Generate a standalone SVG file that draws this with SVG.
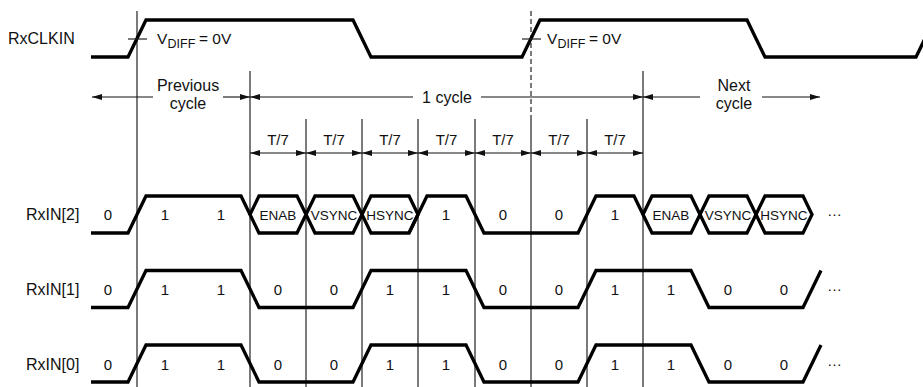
<svg xmlns="http://www.w3.org/2000/svg" width="923" height="387" viewBox="0 0 923 387">
<defs>
<style>
text{font-family:"Liberation Sans",Arial,sans-serif;fill:#111}
.lbl{font-size:16px}
.t{font-size:15px;text-anchor:middle}
.hx{font-size:13.5px;text-anchor:middle}
.wave{fill:none;stroke:#000;stroke-width:3.3;stroke-linejoin:miter}
.grid{stroke:#222;stroke-width:1.2;fill:none}
.dash{stroke:#222;stroke-width:1.2;stroke-dasharray:5 3;fill:none}
.arr{stroke:#111;stroke-width:1.1;fill:none}
</style>
<marker id="ah" viewBox="0 0 10 6" refX="10" refY="3" markerWidth="10" markerHeight="6" markerUnits="userSpaceOnUse" orient="auto-start-reverse">
<path d="M0,0 L10,3 L0,6 Z" fill="#111"/>
</marker>
</defs>
<rect width="923" height="387" fill="#fff"/>

<g id="grid-lines">
<line class="grid" x1="137" y1="11" x2="137" y2="387"/>
<line class="grid" x1="250" y1="71" x2="250" y2="387"/>
<line class="grid" x1="643" y1="71" x2="643" y2="387"/>
<line class="grid" x1="306" y1="119" x2="306" y2="387"/>
<line class="grid" x1="362" y1="119" x2="362" y2="387"/>
<line class="grid" x1="418" y1="119" x2="418" y2="387"/>
<line class="grid" x1="475" y1="119" x2="475" y2="387"/>
<line class="grid" x1="587" y1="119" x2="587" y2="387"/>
<line class="dash" x1="531" y1="11" x2="531" y2="119"/>
<line class="grid" x1="531" y1="119" x2="531" y2="387"/>
</g>

<g id="clock">
<text class="lbl" x="8" y="44">RxCLKIN</text>
<path class="wave" d="M91,57 L128,57 L146,20 L353,20 L371,57 L522,57 L540,20 L747,20 L765,57 L916,57 L934,20"/>
<line class="grid" x1="128" y1="39" x2="147" y2="39"/>
<line class="grid" x1="522" y1="39" x2="541" y2="39"/>
<text x="157" y="44" style="font-size:15.5px">V</text><text x="167.5" y="48" style="font-size:12.5px">DIFF</text><text x="199" y="44" style="font-size:15.5px">= 0V</text>
<text x="547" y="44" style="font-size:15.5px">V</text><text x="557.5" y="48" style="font-size:12.5px">DIFF</text><text x="589" y="44" style="font-size:15.5px">= 0V</text>
</g>

<g id="connectors">
<line class="arr" x1="153" y1="97" x2="92" y2="97" marker-end="url(#ah)"/>
<line class="arr" x1="223" y1="97" x2="250" y2="97" marker-end="url(#ah)"/>
<line class="arr" x1="413" y1="97" x2="250" y2="97" marker-end="url(#ah)"/>
<line class="arr" x1="481" y1="97" x2="643" y2="97" marker-end="url(#ah)"/>
<line class="arr" x1="700" y1="97" x2="643" y2="97" marker-end="url(#ah)"/>
<line class="arr" x1="762" y1="97" x2="820" y2="97" marker-end="url(#ah)"/>
<line class="arr" x1="250" y1="153" x2="306" y2="153" marker-start="url(#ah)" marker-end="url(#ah)"/>
<line class="arr" x1="306" y1="153" x2="362" y2="153" marker-start="url(#ah)" marker-end="url(#ah)"/>
<line class="arr" x1="362" y1="153" x2="418" y2="153" marker-start="url(#ah)" marker-end="url(#ah)"/>
<line class="arr" x1="418" y1="153" x2="475" y2="153" marker-start="url(#ah)" marker-end="url(#ah)"/>
<line class="arr" x1="475" y1="153" x2="531" y2="153" marker-start="url(#ah)" marker-end="url(#ah)"/>
<line class="arr" x1="531" y1="153" x2="587" y2="153" marker-start="url(#ah)" marker-end="url(#ah)"/>
<line class="arr" x1="587" y1="153" x2="643" y2="153" marker-start="url(#ah)" marker-end="url(#ah)"/>
</g>

<g id="cycle-labels">
<text class="t" x="188" y="91" style="font-size:16px">Previous</text>
<text class="t" x="188" y="109" style="font-size:16px">cycle</text>
<text class="t" x="447" y="102.5" style="font-size:16px">1 cycle</text>
<text class="t" x="734" y="91" style="font-size:16px">Next</text>
<text class="t" x="734" y="109" style="font-size:16px">cycle</text>
<text class="t" x="278" y="145">T/7</text>
<text class="t" x="334" y="145">T/7</text>
<text class="t" x="390" y="145">T/7</text>
<text class="t" x="446.5" y="145">T/7</text>
<text class="t" x="503" y="145">T/7</text>
<text class="t" x="559" y="145">T/7</text>
<text class="t" x="615" y="145">T/7</text>
</g>

<g id="rxin2">
<text class="lbl" x="26" y="220">RxIN[2]</text>
<path class="wave" d="M91,233 L128,233 L146,196 L241,196 L250,214.5"/>
<polygon class="wave" points="250,214.5 259,196 297,196 306,214.5 297,233 259,233"/>
<polygon class="wave" points="306,214.5 315,196 353,196 362,214.5 353,233 315,233"/>
<polygon class="wave" points="362,214.5 371,196 409,196 418,214.5 409,233 371,233"/>
<path class="wave" d="M409,233 L427,196 L466,196 L484,233 L578,233 L596,196 L634,196 L643,214.5"/>
<polygon class="wave" points="643,214.5 652,196 691,196 700,214.5 691,233 652,233"/>
<polygon class="wave" points="700,214.5 709,196 747,196 756,214.5 747,233 709,233"/>
<polygon class="wave" points="756,214.5 765,196 803,196 812,214.5 803,233 765,233"/>
<text class="t" x="108" y="220">0</text>
<text class="t" x="165" y="220">1</text>
<text class="t" x="221" y="220">1</text>
<text class="hx" x="278" y="219.5">ENAB</text>
<text class="hx" x="334" y="219.5">VSYNC</text>
<text class="hx" x="390" y="219.5">HSYNC</text>
<text class="t" x="446" y="220">1</text>
<text class="t" x="503" y="220">0</text>
<text class="t" x="559" y="220">0</text>
<text class="t" x="615" y="220">1</text>
<text class="hx" x="671" y="219.5">ENAB</text>
<text class="hx" x="728" y="219.5">VSYNC</text>
<text class="hx" x="784" y="219.5">HSYNC</text>
<text x="827" y="216" style="font-size:15px">…</text>
</g>

<g id="rxin1">
<text class="lbl" x="26" y="295">RxIN[1]</text>
<path class="wave" d="M91,307.5 L128,307.5 L146,270.5 L241,270.5 L259,307.5 L353,307.5 L371,270.5 L466,270.5 L484,307.5 L578,307.5 L596,270.5 L691,270.5 L709,307.5 L803,307.5 L821,270.5"/>
<text class="t" x="108" y="295">0</text>
<text class="t" x="165" y="295">1</text>
<text class="t" x="221" y="295">1</text>
<text class="t" x="278" y="295">0</text>
<text class="t" x="334" y="295">0</text>
<text class="t" x="390" y="295">1</text>
<text class="t" x="446" y="295">1</text>
<text class="t" x="503" y="295">0</text>
<text class="t" x="559" y="295">0</text>
<text class="t" x="615" y="295">1</text>
<text class="t" x="671" y="295">1</text>
<text class="t" x="728" y="295">0</text>
<text class="t" x="784" y="295">0</text>
<text x="827" y="291" style="font-size:15px">…</text>
</g>

<g id="rxin0">
<text class="lbl" x="26" y="369.5">RxIN[0]</text>
<path class="wave" d="M91,382 L128,382 L146,345 L241,345 L259,382 L353,382 L371,345 L466,345 L484,382 L578,382 L596,345 L691,345 L709,382 L803,382 L821,345"/>
<text class="t" x="108" y="369.5">0</text>
<text class="t" x="165" y="369.5">1</text>
<text class="t" x="221" y="369.5">1</text>
<text class="t" x="278" y="369.5">0</text>
<text class="t" x="334" y="369.5">0</text>
<text class="t" x="390" y="369.5">1</text>
<text class="t" x="446" y="369.5">1</text>
<text class="t" x="503" y="369.5">0</text>
<text class="t" x="559" y="369.5">0</text>
<text class="t" x="615" y="369.5">1</text>
<text class="t" x="671" y="369.5">1</text>
<text class="t" x="728" y="369.5">0</text>
<text class="t" x="784" y="369.5">0</text>
<text x="827" y="366" style="font-size:15px">…</text>
</g>
</svg>
